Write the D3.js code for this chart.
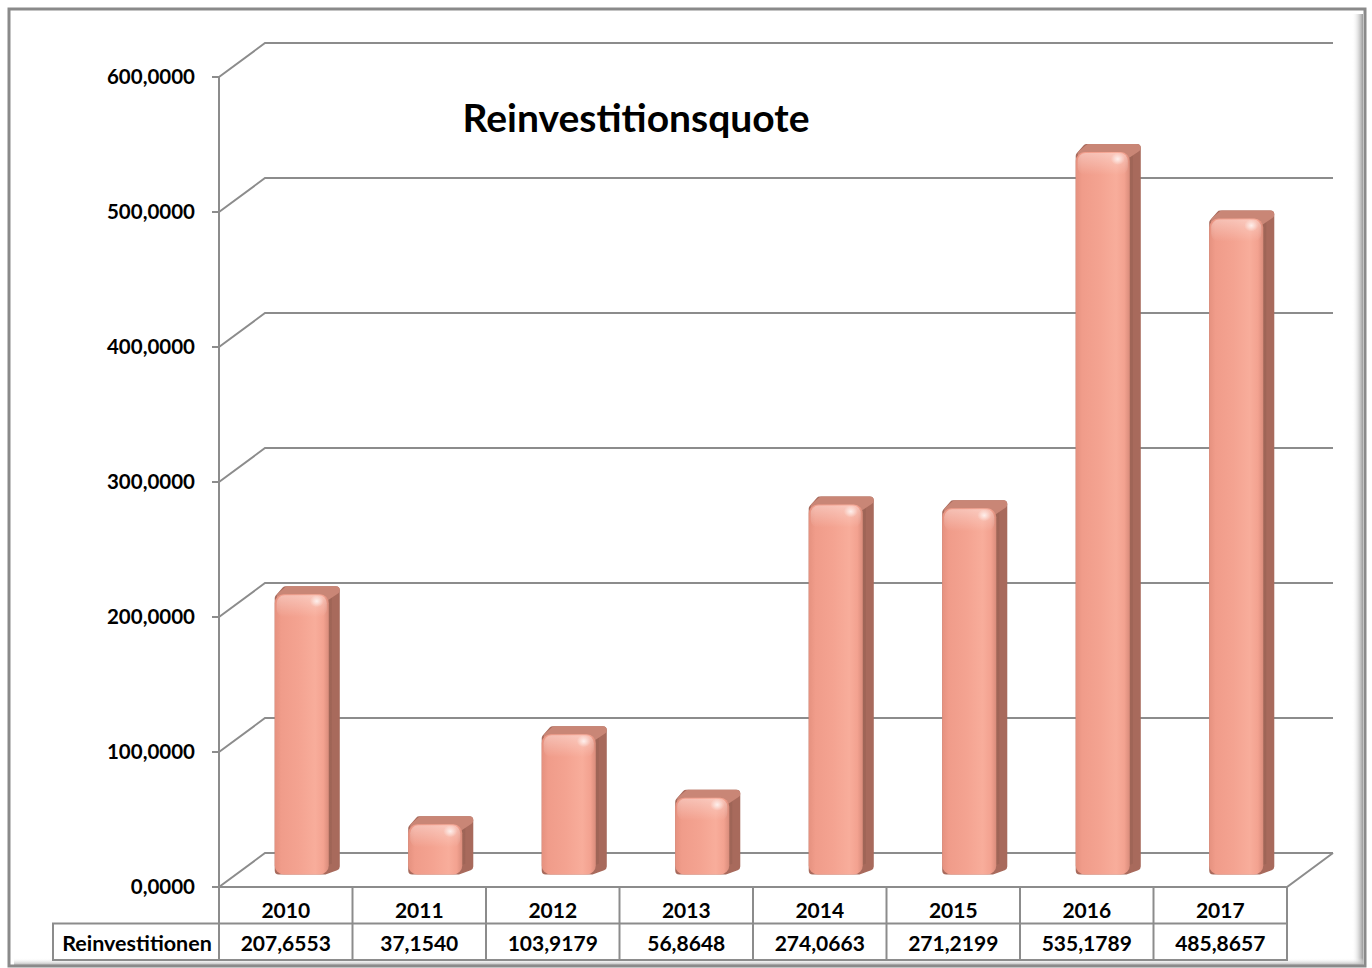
<!DOCTYPE html>
<html>
<head>
<meta charset="utf-8">
<script src="https://cdn.jsdelivr.net/npm/d3@7"></script>
<style>
  html, body { margin: 0; padding: 0; background: #fff; }
  svg { display: block; font-family: Lato, "Noto Sans", sans-serif; font-weight: 700; }
</style>
</head>
<body>
<svg id="chart" width="1372" height="968"></svg>
<script>
// Daten
const years = ["2010", "2011", "2012", "2013", "2014", "2015", "2016", "2017"];
const values = [207.6553, 37.1540, 103.9179, 56.8648, 274.0663, 271.2199, 535.1789, 485.8657];
const yTicks = [0, 100, 200, 300, 400, 500, 600];
const seriesName = "Reinvestitionen";
const title = "Reinvestitionsquote";

const de = d3.formatLocale({ decimal: ",", thousands: ".", grouping: [3], currency: ["", " €"] });
const fmt = de.format(".4f");

const svg = d3.select("#chart");

// Geometrie der 3D-Fläche
const plot = { left: 219, right: 1287, top: 77, bottom: 887 };
const depth = { dx: 46, dy: 34 };       // Tiefe der Rückwand
const barOff = { dx: 17, dy: 12.5 };    // Position der Säule in der Tiefe
const barDepth = { dx: 11, dy: 8 };     // Tiefe der Säule selbst

const x = d3.scaleBand().domain(years).range([plot.left, plot.right]).padding(0);
const y = d3.scaleLinear().domain([0, 600]).range([plot.bottom, plot.top]);

const defs = svg.append("defs");

function grad(id, stops, vertical) {
  const g = defs.append("linearGradient").attr("id", id)
    .attr("x1", "0%").attr("y1", "0%")
    .attr("x2", vertical ? "0%" : "100%").attr("y2", vertical ? "100%" : "0%");
  stops.forEach(([o, c, a]) => g.append("stop").attr("offset", o).attr("stop-color", c)
    .attr("stop-opacity", a == null ? 1 : a));
}

grad("front", [["0%", "#e5917f"], ["12%", "#f09c8a"], ["45%", "#f4a391"], ["75%", "#f8ad9b"], ["90%", "#f3a290"], ["100%", "#d98c7b"]]);
grad("side", [["0%", "#b97868"], ["100%", "#9c6355"]]);
grad("topg", [["0%", "#c27b6b"], ["100%", "#d98f7e"]], true);
grad("shine", [["0%", "#ffffff", 0.35], ["100%", "#ffffff", 0]], true);
grad("shadowR", [["0%", "#ffffff", 0], ["100%", "#9a9a9a", 1]]);
grad("shadowB", [["0%", "#ffffff", 0], ["100%", "#b5b5b5", 1]], true);

const spot = defs.append("radialGradient").attr("id", "spot");
spot.append("stop").attr("offset", "0%").attr("stop-color", "#fff").attr("stop-opacity", 0.75);
spot.append("stop").attr("offset", "100%").attr("stop-color", "#fff").attr("stop-opacity", 0);

// Rahmen mit Schatten rechts/unten
svg.append("rect").attr("x", 1352).attr("y", 14).attr("width", 11).attr("height", 951).attr("fill", "url(#shadowR)");
svg.append("rect").attr("x", 14).attr("y", 958).attr("width", 1349).attr("height", 7).attr("fill", "url(#shadowB)");
svg.append("rect").attr("x", 9).attr("y", 9).attr("width", 1356).attr("height", 957)
  .attr("fill", "none").attr("stroke", "#8a8a8a").attr("stroke-width", 3);

const gridColor = "#8c8c8c";

// Gitterlinien (Seitenwand-Diagonale + Rückwand)
const grid = svg.append("g").attr("stroke", gridColor).attr("stroke-width", 2).attr("fill", "none");
grid.selectAll("path.g")
  .data(yTicks)
  .join("path")
  .attr("class", "g")
  .attr("d", d => `M${plot.left},${y(d)}L${plot.left + depth.dx},${y(d) - depth.dy}L${plot.right + depth.dx},${y(d) - depth.dy}`);

// Boden
grid.append("path")
  .attr("d", `M${plot.left},${plot.bottom}L${plot.right},${plot.bottom}L${plot.right + depth.dx},${plot.bottom - depth.dy}`);

// Y-Achse
const axis = svg.append("g");
axis.append("line").attr("x1", plot.left).attr("x2", plot.left)
  .attr("y1", plot.top).attr("y2", 960).attr("stroke", gridColor).attr("stroke-width", 2);
axis.selectAll("line.tick")
  .data(yTicks).join("line").attr("class", "tick")
  .attr("x1", plot.left - 7).attr("x2", plot.left)
  .attr("y1", d => y(d)).attr("y2", d => y(d))
  .attr("stroke", gridColor).attr("stroke-width", 2);
axis.selectAll("text")
  .data(yTicks).join("text")
  .attr("x", 195).attr("y", d => y(d))
  .attr("dy", "0.36em")
  .attr("text-anchor", "end")
  .attr("font-size", 20.5)
  .attr("fill", "#000")
  .text(d => fmt(d));

// Säulen
const barW = x.bandwidth() * 0.405;
svg.append("g").selectAll("g.bar")
  .data(years.map((yr, i) => ({ yr, v: values[i] })))
  .join("g").attr("class", "bar")
  .each(function (d) {
    const g = d3.select(this);
    const xL = x(d.yr) + (x.bandwidth() - barW) / 2 + barOff.dx - 1;
    const xR = xL + barW;
    const yB = y(0) - barOff.dy;
    const yT = y(d.v) - barOff.dy;
    const r = 4;
    const ddx = barDepth.dx, ddy = barDepth.dy;

    // Silhouette (Seite) mit runden Ecken
    const sil = [
      [xL + r, yB - r], [xL + r, yT + r], [xL + ddx, yT - ddy + r],
      [xR + ddx - r, yT - ddy + r], [xR + ddx - r, yB - ddy], [xR - r, yB - r]
    ];
    g.append("path")
      .attr("d", "M" + sil.map(p => p.join(",")).join("L") + "Z")
      .attr("fill", "url(#side)").attr("stroke", "#a86a5c")
      .attr("stroke-width", 2 * r).attr("stroke-linejoin", "round");

    // Deckfläche
    const top = [[xL + r + 2, yT + 2], [xL + ddx + 2, yT - ddy + r], [xR + ddx - r, yT - ddy + r], [xR - 2, yT + 2]];
    g.append("path")
      .attr("d", "M" + top.map(p => p.join(",")).join("L") + "Z")
      .attr("fill", "url(#topg)").attr("stroke", "#c98676")
      .attr("stroke-width", 2 * r).attr("stroke-linejoin", "round");

    // Vorderseite
    const h = yB - yT;
    g.append("rect")
      .attr("x", xL).attr("y", yT).attr("width", barW).attr("height", h)
      .attr("rx", 9).attr("ry", 9)
      .attr("fill", "url(#front)");
    g.append("rect")
      .attr("x", xL + 2).attr("y", yT + 1).attr("width", barW - 4).attr("height", Math.min(22, h - 2))
      .attr("rx", 8).attr("ry", 8)
      .attr("fill", "url(#shine)");
    g.append("ellipse")
      .attr("cx", xR - 12).attr("cy", yT + 7).attr("rx", 7).attr("ry", 6)
      .attr("fill", "url(#spot)");
  });

// Titel
svg.append("text")
  .attr("x", 636).attr("y", 132)
  .attr("text-anchor", "middle")
  .attr("font-size", 39)
  .attr("fill", "#000")
  .text(title);

// Datentabelle
const table = svg.append("g");
const rowTop = plot.bottom, rowMid = 923.5, rowBot = 960;
const labelLeft = 53;
const tStroke = "#8c8c8c";

table.append("path")
  .attr("fill", "none").attr("stroke", tStroke).attr("stroke-width", 2)
  .attr("d", `M${plot.right},${rowTop}L${plot.right},${rowBot}L${labelLeft},${rowBot}L${labelLeft},${rowMid}L${plot.right},${rowMid}`);

table.selectAll("line.col")
  .data(years.slice(1))
  .join("line").attr("class", "col")
  .attr("x1", d => x(d)).attr("x2", d => x(d))
  .attr("y1", rowTop).attr("y2", rowBot)
  .attr("stroke", tStroke).attr("stroke-width", 2);

table.selectAll("text.cat")
  .data(years).join("text").attr("class", "cat")
  .attr("x", d => x(d) + x.bandwidth() / 2)
  .attr("y", 910).attr("dy", "0.36em")
  .attr("text-anchor", "middle").attr("font-size", 21)
  .text(d => d);

table.selectAll("text.val")
  .data(values).join("text").attr("class", "val")
  .attr("x", (d, i) => x(years[i]) + x.bandwidth() / 2)
  .attr("y", 943).attr("dy", "0.36em")
  .attr("text-anchor", "middle").attr("font-size", 21)
  .text(d => fmt(d));

table.append("text")
  .attr("x", (labelLeft + plot.left) / 2 + 1)
  .attr("y", 943).attr("dy", "0.36em")
  .attr("text-anchor", "middle").attr("font-size", 21.5)
  .text(seriesName);
</script>
</body>
</html>
